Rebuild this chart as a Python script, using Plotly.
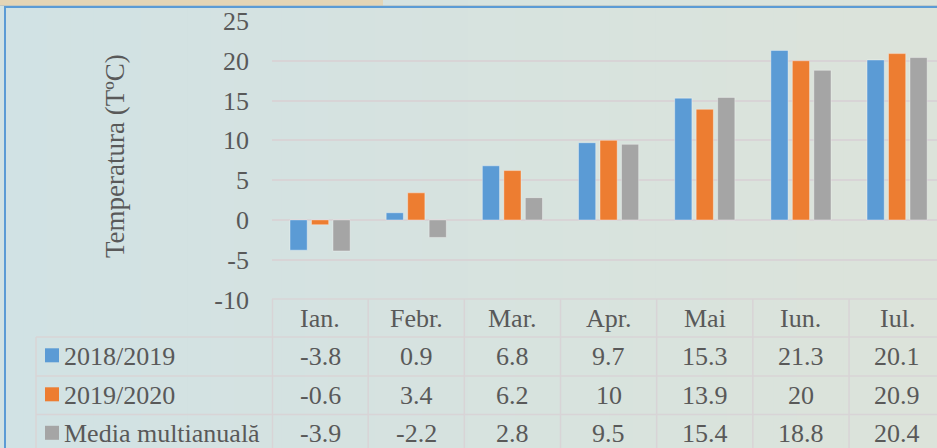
import plotly.graph_objects as go

# ---- data ----
months = ["Ian.", "Febr.", "Mar.", "Apr.", "Mai", "Iun.", "Iul."]
series_names = ["2018/2019", "2019/2020", "Media multianuală"]
s2018_2019 = [-3.8, 0.9, 6.8, 9.7, 15.3, 21.3, 20.1]
s2019_2020 = [-0.6, 3.4, 6.2, 10, 13.9, 20, 20.9]
media_multi = [-3.9, -2.2, 2.8, 9.5, 15.4, 18.8, 20.4]
y_ticks = [-10, -5, 0, 5, 10, 15, 20, 25]
y_ticktext = [str(v) for v in y_ticks]
y_title = "Temperatura (TºC)"

series_values = [s2018_2019, s2019_2020, media_multi]
colors = ["#5b9bd5", "#ed7d31", "#a5a5a5"]

W, H = 937, 448
L = 272
PW = W - L
FONT = "Liberation Serif, Times New Roman, serif"
TXT = "#595959"
GRID = "#d8d4d6"


def px(p):
    return (p - L) / PW


def py(p):
    return 1 - p / H


x_idx = list(range(len(months)))

fig = go.Figure()
for name, vals, col in zip(series_names, series_values, colors):
    fig.add_trace(go.Bar(
        x=x_idx, y=vals, name=name,
        marker=dict(color=col, line=dict(color="rgba(255,255,255,0.45)", width=0.8)),
        showlegend=False, hoverinfo="skip",
    ))

shapes = []
# background gradient
c0 = (209, 226, 228)
c1 = (220, 227, 218)
N = 40
for i in range(N):
    t = i / (N - 1)
    c = tuple(round(a + (b - a) * t) for a, b in zip(c0, c1))
    x0p = i * W / N
    x1p = (i + 1) * W / N + 1
    shapes.append(dict(type="rect", xref="paper", yref="paper",
                       x0=px(x0p), x1=px(x1p), y0=0, y1=1,
                       fillcolor=f"rgb{c}", line=dict(width=0), layer="below"))
# beige tab at top
shapes.append(dict(type="rect", xref="paper", yref="paper",
                   x0=px(0), x1=px(383), y0=py(5.5), y1=1,
                   fillcolor="#e4d5b6", line=dict(width=0), layer="below"))
shapes.append(dict(type="rect", xref="paper", yref="paper",
                   x0=px(0), x1=px(937), y0=py(6), y1=py(5),
                   fillcolor="rgba(150,160,170,0.35)", line=dict(width=0), layer="below"))
# blue frame
shapes.append(dict(type="line", xref="paper", yref="paper",
                   x0=px(4), x1=px(937), y0=py(7), y1=py(7),
                   line=dict(color="#5b9bd5", width=2)))
shapes.append(dict(type="line", xref="paper", yref="paper",
                   x0=px(5), x1=px(5), y0=py(7), y1=0,
                   line=dict(color="#5b9bd5", width=2)))

# table lines
row_top = [299, 337, 376, 414.5]
row_h = 38.6
shapes.append(dict(type="line", xref="paper", yref="paper",
                   x0=0, x1=1, y0=py(row_top[0]), y1=py(row_top[0]),
                   line=dict(color=GRID, width=1.5)))
for r in row_top[1:]:
    shapes.append(dict(type="line", xref="paper", yref="paper",
                       x0=px(36), x1=1, y0=py(r), y1=py(r),
                       line=dict(color=GRID, width=1.5)))
shapes.append(dict(type="line", xref="paper", yref="paper",
                   x0=px(36), x1=px(36), y0=py(row_top[1]), y1=0,
                   line=dict(color=GRID, width=1.5)))
shapes.append(dict(type="line", xref="paper", yref="paper",
                   x0=px(272.5), x1=px(272.5), y0=py(row_top[0]), y1=0,
                   line=dict(color=GRID, width=1.5)))
for k in x_idx[:-1]:
    shapes.append(dict(type="line", xref="x", yref="paper",
                       x0=k + 0.5, x1=k + 0.5, y0=py(row_top[0]), y1=0,
                       line=dict(color=GRID, width=1.5)))

annotations = []
# header
for k, m in zip(x_idx, months):
    annotations.append(dict(x=k, y=py(row_top[0] + row_h / 2), xref="x", yref="paper",
                            text=m, showarrow=False, xanchor="center", yanchor="middle",
                            font=dict(family=FONT, size=26, color=TXT)))
# rows
for r, (name, vals, col) in enumerate(zip(series_names, series_values, colors)):
    yc = row_top[r + 1] + row_h / 2
    shapes.append(dict(type="rect", xref="paper", yref="paper",
                       x0=px(45), x1=px(59), y0=py(yc + 6), y1=py(yc - 8),
                       fillcolor=col, line=dict(width=0)))
    annotations.append(dict(x=px(62), y=py(yc), xref="paper", yref="paper",
                            text=name, showarrow=False, xanchor="left", yanchor="middle",
                            font=dict(family=FONT, size=26, color=TXT)))
    for k, v in zip(x_idx, vals):
        annotations.append(dict(x=k, y=py(yc), xref="x", yref="paper",
                                text=f"{v:g}", showarrow=False, xanchor="center", yanchor="middle",
                                font=dict(family=FONT, size=26, color=TXT)))

# y title
annotations.append(dict(x=px(115), y=py(156), xref="paper", yref="paper",
                        text=y_title, textangle=-90, showarrow=False,
                        xanchor="center", yanchor="middle",
                        font=dict(family=FONT, size=27, color=TXT)))

fig.update_layout(
    width=W, height=H,
    margin=dict(l=L, r=0, t=0, b=0, autoexpand=False),
    paper_bgcolor="#d6e3e0",
    plot_bgcolor="rgba(0,0,0,0)",
    barmode="group", bargap=0.33, bargroupgap=0.2,
    shapes=shapes, annotations=annotations,
    showlegend=False,
    xaxis=dict(range=[-0.5, 6.5 - 8.2 / 96.17], showticklabels=False, showgrid=False,
               zeroline=False, showline=False, ticks="", fixedrange=True, automargin=False),
    yaxis=dict(range=[-10, 25], tickvals=y_ticks, ticktext=y_ticktext,
               domain=[py(299.5), py(21)],
               showgrid=True, gridcolor=GRID, gridwidth=1.5, zeroline=False,
               showline=False, ticks="", ticklabelstandoff=22, automargin=False,
               fixedrange=True,
               tickfont=dict(family=FONT, size=26, color=TXT)),
)

fig.write_html("out.html", config={"displayModeBar": False},
               post_script="document.body.style.margin='0px';document.body.style.overflow='hidden';")
